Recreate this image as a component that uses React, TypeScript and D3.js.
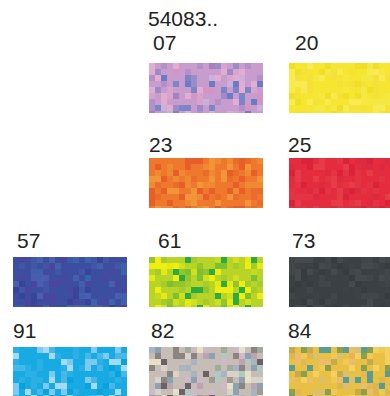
import React from "react";
import * as d3 from "d3";

const title = "54083..";
const codes = ["07", "20", "23", "25", "57", "61", "73", "91", "82", "84"];
const gridCol = [1, 2, 1, 2, 0, 1, 2, 0, 1, 2];
const gridRow = [0, 0, 1, 1, 2, 2, 2, 3, 3, 3];
const palettes: string[][] = [
  ["#c89ccc", "#d8a4cc", "#b490c8", "#e4acd0", "#9a8cc8", "#7c86c6", "#d494c4", "#6a7cc4", "#a680c0", "#cab0dc"],
  ["#f6e630", "#f4e23a", "#f8ea50", "#f2de24", "#f6e842"],
  ["#ee782c", "#eb6c2a", "#f08a32", "#e85e28", "#f29438"],
  ["#e42c3e", "#e23442", "#dc2238", "#e63c48", "#de2a40"],
  ["#3c4ea0", "#4256a8", "#36459a", "#4a5eb0", "#4a46a0", "#3e62aa"],
  ["#b8d426", "#a4cc2c", "#e4ea12", "#d0e01c", "#94c42e", "#c4dc20", "#2cac40", "#f0ee10", "#7cc034"],
  ["#3a4044", "#363c40", "#40464a", "#3c4246", "#444a4e"],
  ["#18aae2", "#0aa2dc", "#46b8e8", "#7ccaf0", "#2ab0e4", "#a4daf4"],
  ["#c6beb6", "#a8b4c2", "#bca4ac", "#9eac9a", "#6e6068", "#d8d2c8", "#8aa2b2", "#e6e0c4", "#b0c8c0", "#8c8480", "#d0b8c8", "#a09a90"],
  ["#e8c044", "#f0c852", "#dcb64e", "#c8aa4c", "#ecbc6a", "#d8c070", "#f4d060", "#e4b850", "#8ca04a", "#5a9c90"],
];

const colX = [13, 149, 289];
const rowLabelY = [50, 152, 248, 338];
const rowSwatchY = [63, 158, 257, 347];
const labelDx = [4, 6, 0, -1, 4, 9, 3, 0, 2, -1];
const swW = 114;
const swH = 50;
const cell = 6;

function hash(a: number, b: number, c: number) {
  let x = Math.imul(a + 1, 374761393) ^ Math.imul(b + 7, 668265263) ^ Math.imul(c + 13, 1274126177);
  x = Math.imul(x ^ (x >>> 13), 1103515245);
  x ^= x >>> 16;
  return (x >>> 0) / 4294967296;
}

export default function App() {
  const W = 390, H = 396;
  const xCol = d3.scaleOrdinal<number, number>().domain([0, 1, 2]).range(colX);
  const nx = Math.ceil(swW / cell) + 1;
  const ny = Math.ceil(swH / cell);
  return (
    <div style={{ position: "absolute", left: 0, top: 0 }}>
      <svg width={W} height={H} style={{ display: "block" }} fontFamily="Liberation Sans, Arial, sans-serif">
        <rect width={W} height={H} fill="#fff" />
        <text x={148} y={26} fontSize={21} fill="#222">{title}</text>
        {codes.map((code, k) => {
          const x0 = xCol(gridCol[k]);
          const y0 = rowSwatchY[gridRow[k]];
          const pal = palettes[k];
          const cells = d3.cross(d3.range(nx), d3.range(ny));
          return (
            <g key={code}>
              <text x={x0 + labelDx[k]} y={rowLabelY[gridRow[k]]} fontSize={21} fill="#222">{code}</text>
              <clipPath id={"c" + k}>
                <rect x={x0} y={y0} width={swW} height={swH} />
              </clipPath>
              <g clipPath={`url(#c${k})`}>
                {cells.map(([i, j]) => {
                  const r = hash(i, j, k);
                  const idx = r < 0.35 ? 0 : Math.floor(hash(j, i, k + 50) * pal.length);
                  return (
                    <rect key={i + "-" + j} x={x0 + i * cell} y={y0 + j * cell} width={cell} height={cell} fill={pal[idx]} />
                  );
                })}
              </g>
            </g>
          );
        })}
      </svg>
    </div>
  );
}
